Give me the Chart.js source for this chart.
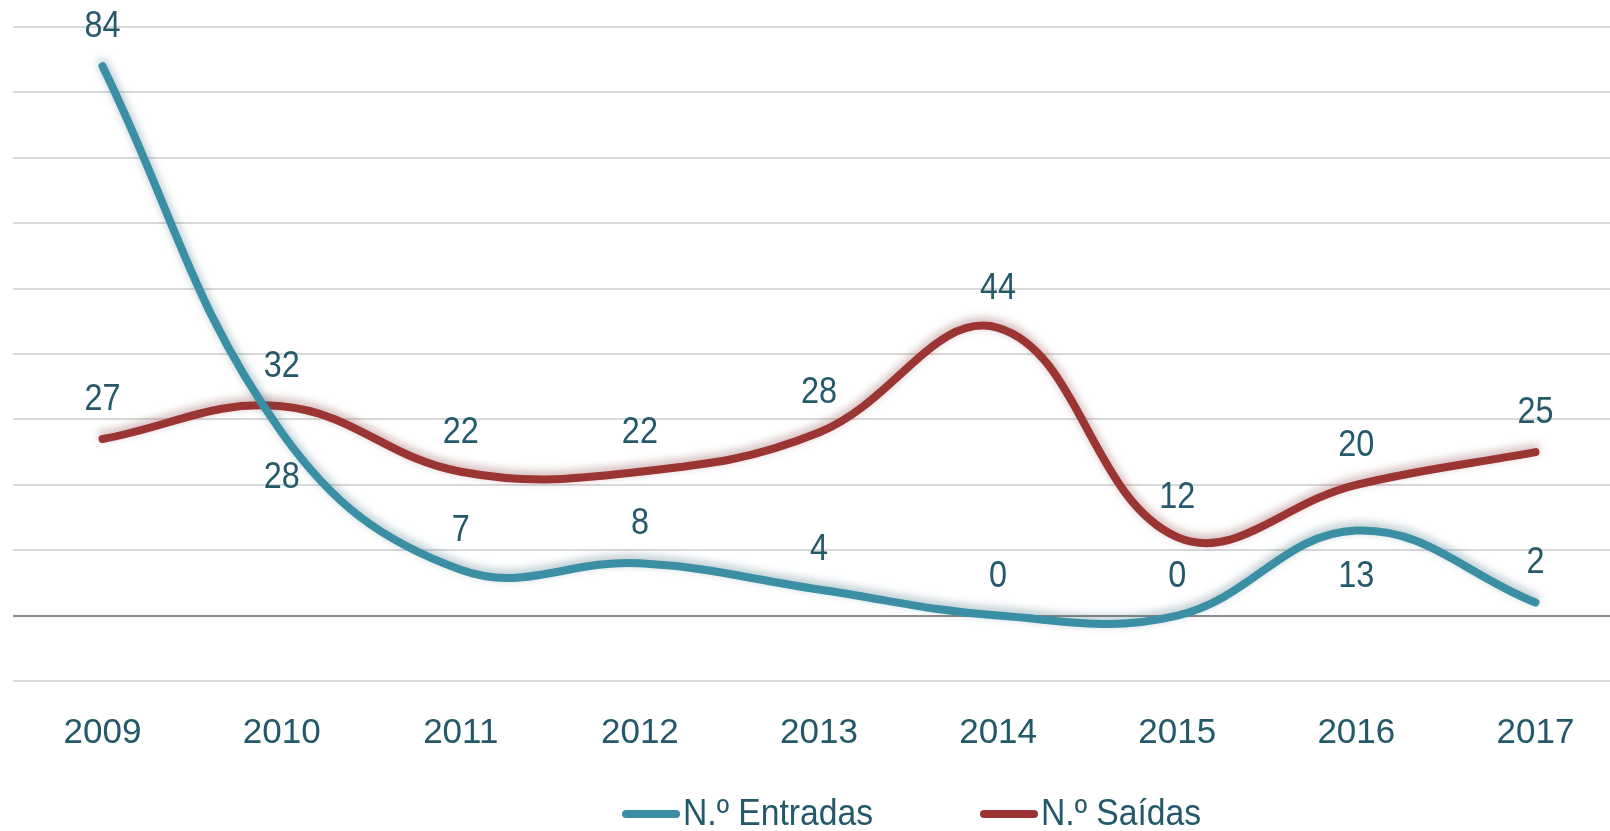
<!DOCTYPE html>
<html>
<head>
<meta charset="utf-8">
<script src="https://cdn.jsdelivr.net/npm/chart.js@4/dist/chart.umd.min.js"></script>
<style>
  html, body { margin: 0; padding: 0; background: #fff; overflow: hidden; }
  #wrap { width: 1625px; height: 831px; }
</style>
</head>
<body>
<div id="wrap"><canvas id="chart" width="1625" height="831"></canvas></div>
<script>
// data
const years = ['2009', '2010', '2011', '2012', '2013', '2014', '2015', '2016', '2017'];
const entradas = [84, 28, 7, 8, 4, 0, 0, 13, 2];
const saidas = [27, 32, 22, 22, 28, 44, 12, 20, 25];
const entradasLabelSide = ['top', 'bottom', 'top', 'top', 'top', 'top', 'top', 'bottom', 'top'];
const saidasLabelSide = ['top', 'top', 'top', 'top', 'top', 'top', 'top', 'top', 'top'];

const textColor = '#24596a';
const blue = '#3a8fa5';
const red = '#9b3534';
const narrowFont = '"Liberation Sans", Arial, sans-serif';

// soft glow under each line, like the office chart
const glowPlugin = {
  id: 'glow',
  beforeDatasetDraw(chart, args) {
    const ctx = chart.ctx;
    ctx.save();
    ctx.shadowColor = args.meta.dataset.options.borderColor === blue
      ? 'rgba(40,90,110,0.4)' : 'rgba(120,40,40,0.4)';
    ctx.shadowBlur = 10;
    ctx.shadowOffsetY = -3;
  },
  afterDatasetDraw(chart) {
    chart.ctx.restore();
  }
};

// draw text squeezed horizontally (no narrow font is installed)
function narrowText(ctx, text, x, y, sx) {
  ctx.save();
  ctx.translate(x, y);
  ctx.scale(sx, 1);
  ctx.fillText(text, 0, 0);
  ctx.restore();
}

// value labels above / below each point
const valueLabels = {
  id: 'valueLabels',
  afterDatasetsDraw(chart) {
    const ctx = chart.ctx;
    const sides = [entradasLabelSide, saidasLabelSide];
    ctx.save();
    ctx.font = '36px ' + narrowFont;
    ctx.fillStyle = textColor;
    ctx.textAlign = 'center';
    ctx.textBaseline = 'middle';
    chart.data.datasets.forEach((ds, i) => {
      const meta = chart.getDatasetMeta(i);
      meta.data.forEach((pt, j) => {
        const dy = sides[i][j] === 'top' ? -39 : 46;
        narrowText(ctx, String(ds.data[j]), pt.x, pt.y + dy, 0.9);
      });
    });
    ctx.restore();
  }
};

// legend drawn by hand so it can sit where the original one sits
const customLegend = {
  id: 'customLegend',
  afterDraw(chart) {
    const ctx = chart.ctx;
    ctx.save();
    ctx.font = '37px ' + narrowFont;
    ctx.textBaseline = 'middle';
    ctx.textAlign = 'left';
    const y = 814;
    const starts = [622, 980];
    chart.data.datasets.forEach((ds, i) => {
      const x = starts[i];
      ctx.strokeStyle = ds.borderColor;
      ctx.lineWidth = 8;
      ctx.lineCap = 'round';
      ctx.beginPath();
      ctx.moveTo(x + 4, y);
      ctx.lineTo(x + 54, y);
      ctx.stroke();
      ctx.fillStyle = textColor;
      narrowText(ctx, ds.label, x + 61, y + 1, 0.91);
    });
    ctx.restore();
  }
};

new Chart(document.getElementById('chart'), {
  type: 'line',
  data: {
    labels: years,
    datasets: [
      {
        label: 'N.º Entradas',
        data: entradas,
        borderColor: blue,
        backgroundColor: blue,
        borderWidth: 8,
        borderCapStyle: 'round',
        tension: 0.4,
        pointRadius: 0,
        fill: false
      },
      {
        label: 'N.º Saídas',
        data: saidas,
        borderColor: red,
        backgroundColor: red,
        borderWidth: 8,
        borderCapStyle: 'round',
        tension: 0.4,
        pointRadius: 0,
        fill: false
      }
    ]
  },
  options: {
    responsive: false,
    devicePixelRatio: 1,
    animation: false,
    layout: { padding: { left: 13, top: 27, right: 0, bottom: 0 } },
    plugins: {
      legend: { display: false },
      tooltip: { enabled: false }
    },
    scales: {
      x: {
        offset: true,
        grid: { display: false },
        border: { display: false },
        ticks: {
          color: textColor,
          padding: 23,
          font: { family: narrowFont, size: 35 }
        },
        afterFit(scale) { scale.height = 150; }
      },
      y: {
        min: -10,
        max: 90,
        ticks: { display: false, stepSize: 10 },
        border: { display: false },
        grid: {
          drawTicks: false,
          lineWidth: 2,
          color: c => c.tick.value === 0 ? '#8c8c8c' : '#d9d9d9'
        },
        afterFit(scale) { scale.width = 0; }
      }
    }
  },
  plugins: [glowPlugin, valueLabels, customLegend]
});
</script>
</body>
</html>
